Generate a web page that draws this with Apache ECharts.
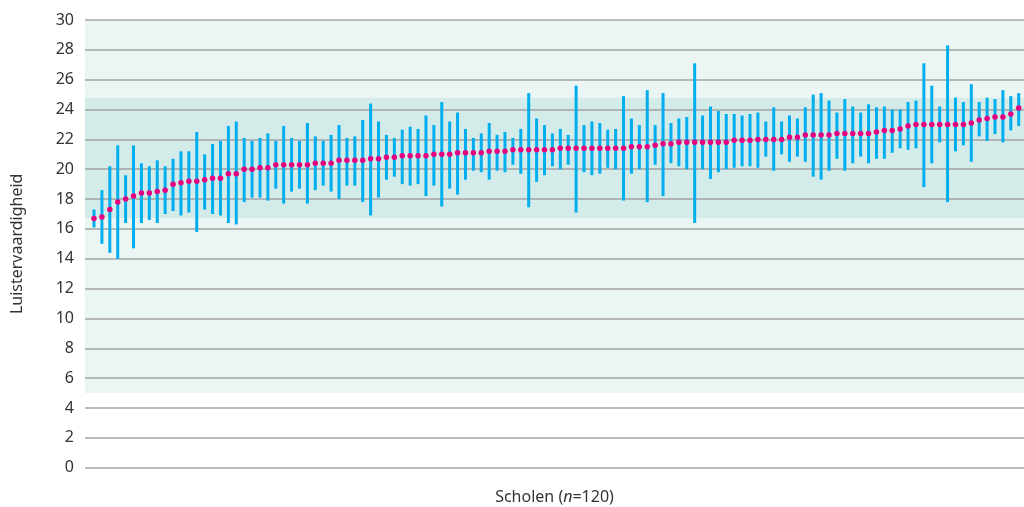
<!DOCTYPE html>
<html>
<head>
<meta charset="utf-8">
<script src="https://cdn.jsdelivr.net/npm/echarts@6/dist/echarts.min.js"></script>
<style>html,body{margin:0;padding:0;background:#fff}#c{width:1024px;height:507px}</style>
</head>
<body>
<div id="c"></div>
<script>
// Mean listening-skill score per school (sorted), with lower and upper bounds
const means = [16.7,16.8,17.3,17.8,18.0,18.2,18.4,18.4,18.5,18.6,19.0,19.1,19.2,19.2,19.3,19.4,19.4,19.7,19.7,20.0,
20.0,20.1,20.1,20.3,20.3,20.3,20.3,20.3,20.4,20.4,20.4,20.6,20.6,20.6,20.6,20.7,20.7,20.8,20.8,20.9,
20.9,20.9,20.9,21.0,21.0,21.0,21.1,21.1,21.1,21.1,21.2,21.2,21.2,21.3,21.3,21.3,21.3,21.3,21.3,21.4,
21.4,21.4,21.4,21.4,21.4,21.4,21.4,21.4,21.5,21.5,21.5,21.6,21.7,21.7,21.8,21.8,21.8,21.8,21.8,21.8,
21.8,21.95,21.95,21.95,22.0,22.0,22.0,22.0,22.15,22.15,22.3,22.3,22.3,22.3,22.4,22.4,22.4,22.4,22.4,22.5,
22.6,22.6,22.7,22.9,23.0,23.0,23.0,23.0,23.0,23.0,23.0,23.1,23.3,23.4,23.5,23.5,23.7,24.1];
const lows = [16.1,15.0,14.4,14.0,16.4,14.7,16.4,16.6,16.4,17.0,17.2,16.9,17.1,15.8,17.3,17.0,16.9,16.4,16.3,17.8,
18.1,18.1,17.9,18.7,17.7,18.5,18.7,17.7,18.6,18.9,18.5,18.0,18.9,18.9,17.8,16.9,18.1,19.3,19.5,19.0,
18.9,19.0,18.2,18.9,17.5,18.7,18.3,19.3,19.9,19.8,19.3,19.9,19.8,20.3,19.7,17.45,19.15,19.6,20.2,20.0,
20.3,17.1,19.8,19.6,19.7,20.1,20.0,17.9,19.7,20.0,17.8,20.3,18.2,20.4,20.2,20.0,16.4,20.0,19.35,19.8,
20.0,20.1,20.2,20.2,20.1,20.85,19.9,21.0,20.5,20.85,20.5,19.5,19.3,19.9,20.7,19.9,20.4,20.85,20.4,20.7,
20.7,21.1,21.4,21.3,21.4,18.8,20.4,21.8,17.8,21.2,21.6,20.5,22.2,21.9,22.35,21.8,22.6,22.9];
const highs = [17.3,18.6,20.2,21.6,19.6,21.6,20.4,20.2,20.6,20.2,20.7,21.2,21.2,22.5,21.0,21.7,21.9,22.9,23.2,22.1,
21.9,22.1,22.4,21.9,22.9,22.1,21.9,23.1,22.2,21.9,22.3,22.96,22.1,22.2,23.3,24.4,23.2,22.3,22.1,22.65,
22.85,22.7,23.6,22.96,24.5,23.2,23.8,22.7,22.1,22.4,23.1,22.3,22.5,22.1,22.7,25.1,23.4,22.96,22.4,22.7,
22.3,25.6,22.96,23.2,23.1,22.65,22.7,24.9,23.4,22.96,25.3,22.96,25.1,23.1,23.4,23.5,27.1,23.6,24.2,23.9,
23.7,23.7,23.6,23.7,23.8,23.2,24.15,23.2,23.6,23.4,24.15,25.0,25.1,24.6,23.8,24.7,24.2,23.8,24.35,24.15,
24.2,24.0,24.0,24.5,24.6,27.1,25.6,24.2,28.3,24.8,24.5,25.7,24.5,24.8,24.7,25.3,24.9,25.1];
const yTicks = [0,2,4,6,8,10,12,14,16,18,20,22,24,26,28,30];
const outerBand = [5, 30];
const innerBand = [16.74, 24.78];

const font = '"Noto Sans", "Open Sans", sans-serif';
const pointData = means.map((m, i) => [i, m]);
const rangeData = means.map((m, i) => [i, lows[i], highs[i]]);

const chart = echarts.init(document.getElementById('c'), null, {renderer: 'canvas'});
chart.setOption({
  animation: false,
  backgroundColor: '#ffffff',
  grid: {left: 85, right: 0, top: 20, bottom: 39.3, containLabel: false, outerBoundsMode: 'none'},
  xAxis: {
    type: 'value', min: -1.14, max: 117.67,
    axisLine: {show: false}, axisTick: {show: false}, axisLabel: {show: false}, splitLine: {show: false},
    name: '{a|Scholen (}{i|n}{a|=120)}',
    nameLocation: 'middle', nameGap: 22,
    nameTextStyle: {
      rich: {
        a: {fontFamily: font, fontSize: 16, color: '#333333'},
        i: {fontFamily: font, fontSize: 16, color: '#333333', fontStyle: 'italic'}
      }
    }
  },
  yAxis: {
    type: 'value', min: 0, max: 30, interval: 2, z: 2,
    axisLine: {show: false}, axisTick: {show: false},
    axisLabel: {fontFamily: font, fontSize: 16, color: '#333333', margin: 11,
      formatter: v => yTicks.includes(v) ? String(v) : ''},
    splitLine: {show: true, lineStyle: {color: '#a3a3a3', width: 1.5}},
    name: 'Luistervaardigheid', nameLocation: 'middle', nameGap: 60,
    nameTextStyle: {fontFamily: font, fontSize: 16, color: '#333333'}
  },
  series: [
    {
      type: 'scatter', data: [], z: 1, silent: true,
      markArea: {
        silent: true,
        data: [
          [{yAxis: outerBand[0], itemStyle: {color: '#ebf6f4'}}, {yAxis: outerBand[1]}],
          [{yAxis: innerBand[0], itemStyle: {color: '#d4ece9'}}, {yAxis: innerBand[1]}]
        ]
      }
    },
    {
      type: 'custom', z: 3, silent: true,
      data: rangeData,
      encode: {x: 0, y: [1, 2]},
      renderItem: function (params, api) {
        const a = api.coord([api.value(0), api.value(1)]);
        const b = api.coord([api.value(0), api.value(2)]);
        return {type: 'line', shape: {x1: a[0], y1: a[1], x2: b[0], y2: b[1]},
          style: {stroke: '#00aeef', lineWidth: 3}};
      }
    },
    {
      type: 'scatter', z: 4, silent: true,
      data: pointData, symbol: 'circle', symbolSize: 5.5,
      itemStyle: {color: '#e6007e', opacity: 1}
    }
  ]
});
</script>
</body>
</html>
